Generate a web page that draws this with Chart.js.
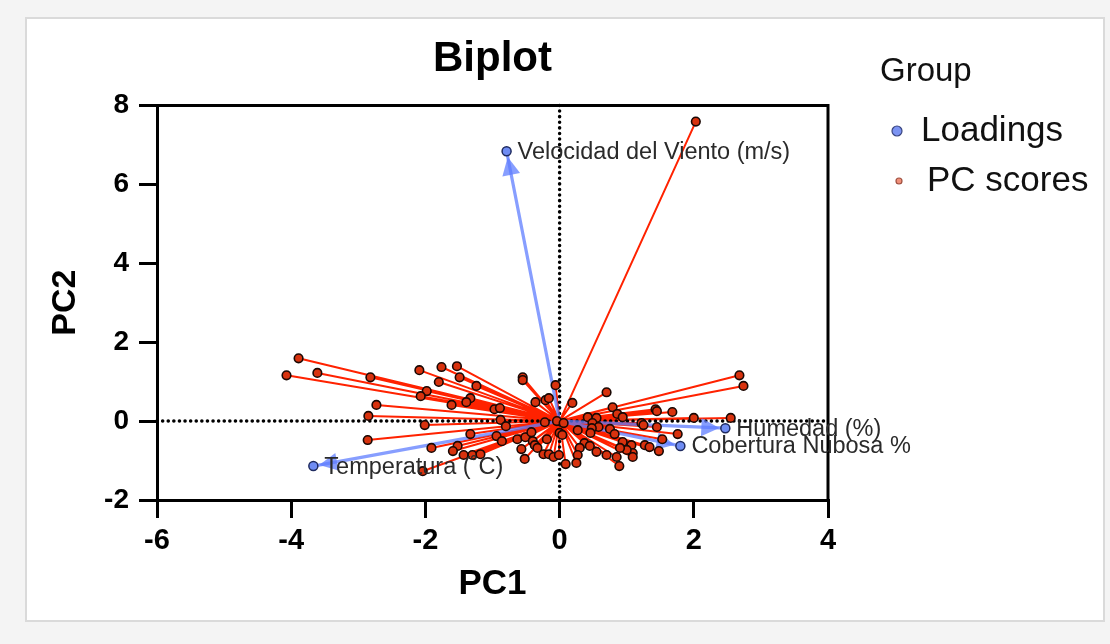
<!DOCTYPE html>
<html>
<head>
<meta charset="utf-8">
<script src="https://cdn.jsdelivr.net/npm/chart.js@4.4.1/dist/chart.umd.min.js"></script>
<style>
html, body { margin: 0; padding: 0; background: #f4f4f4; }
#card { position: absolute; left: 25px; top: 17px; width: 1076px; height: 601px; background: #fff; border: 2px solid #dadada; }
#wrap { position: absolute; left: 0; top: 0; width: 1110px; height: 644px; }
</style>
</head>
<body>
<div id="card"></div>
<div id="wrap"><canvas id="chart"></canvas></div>
<script>
// loadings (variables)
const loadingNames = ['Velocidad del Viento (m/s)', 'Temperatura (˚C)', 'Humedad (%)', 'Cobertura Nubosa %']
const loadingPC1 = [-0.79, -3.67, 2.47, 1.80]
const loadingPC2 = [6.84, -1.14, -0.18, -0.63]

// PC scores (observations)
const scorePC1 = [
    -3.89, -4.07, -3.61, -2.82, -2.73, -2.85, -2.86, -2.09, -1.76, -1.53,
    -1.49, -1.80, -1.98, -2.07, -1.24, -1.33, -1.39, -1.61, -2.01, -1.33,
    -1.91, -1.52, -1.59, -1.43, -1.30, -1.18, -2.04,
    -0.55, -0.55, -0.06, -0.36, -0.21, -0.16, -0.97, -0.89, -0.88, -0.80,
    -0.22, -0.04, 0.06, -0.94, -0.86, -0.63, -0.51, -0.42, -0.40, -0.37,
    -0.33, -0.19, 0.00, 0.04, -0.57, -0.24, -0.16, -0.09, -0.01, -0.52, 0.09,
    2.03, 0.70, 0.19, 0.79, 0.86, 0.94, 0.42, 0.55, 0.49, 0.58,
    0.48, 0.27, 0.75, 0.82, 0.46, 0.37, 0.45, 0.30, 0.27, 0.55,
    0.70, 0.85, 0.94, 1.07, 1.09, 1.09, 1.00, 0.25, 0.89, 0.90,
    2.68, 2.74, 2.55, 1.43, 1.45, 1.68, 2.00, 1.22, 1.25, 1.45,
    1.76, 1.53, 1.48, 1.27, 1.34
]
const scorePC2 = [
    1.59, 1.16, 1.22, 1.11, 0.41, 0.13, -0.48, 1.29, 1.37, 1.39,
    1.11, 0.99, 0.76, 0.63, 0.89, 0.58, 0.48, 0.41, -0.10, -0.33,
    -0.68, -0.63, -0.76, -0.86, -0.86, -0.84, -1.27,
    1.11, 1.04, 0.91, 0.48, 0.53, 0.58, 0.30, 0.33, 0.03, -0.13,
    -0.03, 0.00, -0.05, -0.38, -0.51, -0.46, -0.41, -0.28, -0.51, -0.61,
    -0.68, -0.46, -0.30, -0.35, -0.71, -0.84, -0.84, -0.91, -0.86, -0.96, -1.09,
    7.59, 0.73, 0.46, 0.35, 0.18, 0.10, 0.10, 0.08, -0.05, -0.15,
    -0.18, -0.23, -0.20, -0.33, -0.30, -0.56, -0.63, -0.68, -0.86, -0.78,
    -0.86, -0.91, -0.53, -0.61, -0.81, -0.91, -0.73, -1.06, -1.14, -0.68,
    1.16, 0.89, 0.08, 0.30, 0.25, 0.23, 0.08, -0.05, -0.10, -0.15,
    -0.33, -0.46, -0.76, -0.61, -0.66
]

const xTickValues = [-6, -4, -2, 0, 2, 4]
const yTickValues = [-2, 0, 2, 4, 6, 8]

const scoreColor = '#ff2200'
const loadingColor = 'rgba(95, 125, 255, 0.75)'

// rays go out from the origin and back again, one polyline
function rays(xs, ys) {
    const pts = [{ x: 0, y: 0 }]
    xs.forEach((v, i) => {
        pts.push({ x: v, y: ys[i] })
        pts.push({ x: 0, y: 0 })
    })
    return pts
}
const toPoints = (xs, ys) => xs.map((v, i) => ({ x: v, y: ys[i] }))

Chart.defaults.font.family = '"Liberation Sans", Arial, Helvetica, sans-serif'

const biplotDecor = {
    id: 'biplotDecor',
    afterDatasetDraw(chart, args) {
        const { ctx, chartArea, scales: { x, y } } = chart
        const x0 = x.getPixelForValue(0)
        const y0 = y.getPixelForValue(0)
        if (args.index === 0) {
            // dotted zero lines
            ctx.save()
            ctx.strokeStyle = '#000'
            ctx.lineWidth = 3.5
            ctx.lineCap = 'round'
            ctx.setLineDash([0.1, 5.5])
            ctx.beginPath()
            ctx.moveTo(chartArea.left, y0)
            ctx.lineTo(chartArea.right, y0)
            ctx.moveTo(x0, chartArea.top)
            ctx.lineTo(x0, chartArea.bottom)
            ctx.stroke()
            ctx.restore()
        }
        if (args.index === 2) {
            // arrow heads
            ctx.save()
            ctx.fillStyle = loadingColor
            loadingPC1.forEach((v, i) => {
                const px = x.getPixelForValue(v)
                const py = y.getPixelForValue(loadingPC2[i])
                const a = Math.atan2(py - y0, px - x0)
                const c = Math.cos(a), s = Math.sin(a)
                const tx = px - c * 6, ty = py - s * 6
                const bx = tx - c * 18, by = ty - s * 18
                ctx.beginPath()
                ctx.moveTo(tx, ty)
                ctx.lineTo(bx - s * 9, by + c * 9)
                ctx.lineTo(bx + s * 9, by - c * 9)
                ctx.closePath()
                ctx.fill()
            })
            ctx.restore()
        }
    },
    afterDatasetsDraw(chart) {
        const { ctx, chartArea, scales: { x, y } } = chart
        ctx.save()
        // frame top / right
        ctx.strokeStyle = '#000'
        ctx.lineWidth = 3
        ctx.beginPath()
        ctx.moveTo(chartArea.left, chartArea.top)
        ctx.lineTo(chartArea.right, chartArea.top)
        ctx.lineTo(chartArea.right, chartArea.bottom)
        ctx.stroke()
        // loading labels
        ctx.fillStyle = '#2a2a2a'
        ctx.font = '23.5px "Liberation Sans", Arial, sans-serif'
        ctx.textBaseline = 'middle'
        loadingNames.forEach((name, i) => {
            ctx.fillText(name, x.getPixelForValue(loadingPC1[i]) + 11, y.getPixelForValue(loadingPC2[i]) + 1)
        })
        ctx.restore()
    },
    afterDraw(chart) {
        // legend
        const { ctx, chartArea } = chart
        const lx = chartArea.right + 52
        ctx.save()
        ctx.textBaseline = 'middle'
        ctx.fillStyle = '#111'
        ctx.font = '33px "Liberation Sans", Arial, sans-serif'
        ctx.fillText('Group', lx, 72)
        ctx.font = '35px "Liberation Sans", Arial, sans-serif'
        ctx.fillText('Loadings', lx + 41, 131)
        ctx.fillText('PC scores', lx + 47, 181)
        ctx.lineWidth = 1.2
        ctx.beginPath()
        ctx.arc(lx + 17, 131, 5, 0, Math.PI * 2)
        ctx.fillStyle = '#7b93f2'
        ctx.strokeStyle = '#3a4680'
        ctx.fill()
        ctx.stroke()
        ctx.beginPath()
        ctx.arc(lx + 19, 181, 3, 0, Math.PI * 2)
        ctx.fillStyle = '#f0907a'
        ctx.strokeStyle = '#a05040'
        ctx.fill()
        ctx.stroke()
        ctx.restore()
    }
}

new Chart(document.getElementById('chart'), {
    type: 'scatter',
    data: {
        datasets: [
            {
                label: 'score rays',
                data: rays(scorePC1, scorePC2),
                showLine: true,
                borderColor: scoreColor,
                borderWidth: 2,
                borderJoinStyle: 'round',
                pointRadius: 0,
                order: 4
            },
            {
                label: 'PC scores',
                data: toPoints(scorePC1, scorePC2),
                pointRadius: 4.3,
                pointBackgroundColor: '#d8320e',
                pointBorderColor: '#1a0804',
                pointBorderWidth: 1.6,
                order: 2
            },
            {
                label: 'loading arrows',
                data: rays(loadingPC1, loadingPC2),
                showLine: true,
                borderColor: loadingColor,
                borderWidth: 3.2,
                borderJoinStyle: 'round',
                pointRadius: 0,
                order: 3
            },
            {
                label: 'Loadings',
                data: toPoints(loadingPC1, loadingPC2),
                pointRadius: 4.5,
                pointBackgroundColor: '#6f8cf3',
                pointBorderColor: '#1f2b60',
                pointBorderWidth: 1.5,
                order: 1
            }
        ]
    },
    options: {
        responsive: true,
        maintainAspectRatio: false,
        animation: false,
        layout: { padding: { left: 25, right: 282, top: 17, bottom: 24 } },
        plugins: {
            legend: { display: false },
            tooltip: { enabled: false },
            title: {
                display: true,
                text: 'Biplot',
                fullSize: false,
                color: '#000',
                font: { size: 42, weight: 'bold' },
                padding: { top: 17, bottom: 21 }
            }
        },
        scales: {
            x: {
                type: 'linear',
                min: -6,
                max: 4,
                afterBuildTicks: axis => { axis.ticks = xTickValues.map(v => ({ value: v })) },
                afterFit: axis => { axis.height = 120 },
                border: { color: '#000', width: 3 },
                grid: { drawOnChartArea: false, drawTicks: true, tickLength: 18, color: '#000', lineWidth: 3 },
                ticks: { color: '#000', font: { size: 29, weight: 'bold' }, padding: 6, maxRotation: 0 },
                title: { display: true, text: 'PC1', color: '#000', font: { size: 35, weight: 'bold' }, padding: { top: 0, bottom: 15 } }
            },
            y: {
                type: 'linear',
                min: -2,
                max: 8,
                afterBuildTicks: axis => { axis.ticks = yTickValues.map(v => ({ value: v })) },
                afterFit: axis => { axis.width = 132 },
                border: { color: '#000', width: 3 },
                grid: { drawOnChartArea: false, drawTicks: true, tickLength: 18, color: '#000', lineWidth: 3 },
                ticks: { color: '#000', font: { size: 28, weight: 'bold' }, padding: 10 },
                title: { display: true, text: 'PC2', color: '#000', font: { size: 34, weight: 'bold' }, padding: { top: 20, bottom: 0 } }
            }
        }
    },
    plugins: [biplotDecor]
})
</script>
</body>
</html>
